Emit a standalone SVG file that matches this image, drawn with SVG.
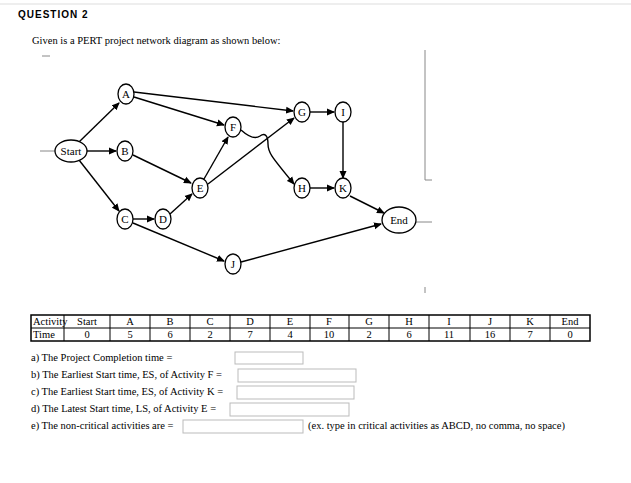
<svg xmlns="http://www.w3.org/2000/svg" width="631" height="483" viewBox="0 0 631 483">
<style>
.n{fill:#fff;stroke:#000;stroke-width:1.3}
.t{font-family:"Liberation Serif",serif;font-size:11px;text-anchor:middle}
.c{stroke:#000;stroke-width:1.4;fill:none;marker-end:url(#ar)}
.g{stroke:#888;stroke-width:1;fill:none}
.tb{font-family:"Liberation Serif",serif;font-size:10.5px;text-anchor:middle}
.q{font-family:"Liberation Serif",serif;font-size:10.5px}
.box{fill:#fff;stroke:#bbb;stroke-width:1}
</style>
<defs><marker id="ar" markerWidth="8" markerHeight="8" refX="7" refY="4" orient="auto" markerUnits="userSpaceOnUse"><path d="M0,0.5 L8,4 L0,7.5 z"/></marker></defs>
<rect width="631" height="483" fill="#fff"/>
<line x1="0" y1="4" x2="631" y2="4" stroke="#ddd"/>
<text x="18" y="18" font-family="Liberation Sans,sans-serif" font-size="10" font-weight="bold" letter-spacing="1">QUESTION 2</text>
<text x="32" y="44" class="q" font-size="11">Given is a PERT project network diagram as shown below:</text>
<line x1="42" y1="56" x2="50" y2="56" class="g"/>
<path d="M425,50 V180 H432" class="g"/>
<line x1="40" y1="151" x2="55" y2="151" class="g"/>
<line x1="416" y1="222" x2="432" y2="222" class="g"/>
<line x1="425" y1="287" x2="425" y2="293" class="g"/>
<g id="connectors">
<path class="c" d="M79,142 L119,103"/>
<path class="c" d="M87,151 L116,151"/>
<path class="c" d="M79,160 L119,211"/>
<path class="c" d="M134,92 L293,111"/>
<path class="c" d="M134,97 L224,125"/>
<path class="c" d="M133,155 L191,183"/>
<path class="c" d="M133,219 L154,219"/>
<path class="c" d="M170,214 L192,194"/>
<path class="c" d="M204,179 L228,137"/>
<path class="c" d="M208,184 L294,118"/>
<path class="c" d="M133,223 L224,261"/>
<path class="c" d="M241,262 L381,224"/>
<path class="c" d="M241,130 C250,138 256,139 260,136 C265,132 268,136 268,144 C268,152 270,155 294,184"/>
<path class="c" d="M310,112 L334,112"/>
<path class="c" d="M343,122 L343,178"/>
<path class="c" d="M310,188 L334,188"/>
<path class="c" d="M350,196 L384,213"/>
</g>
<g id="n-start"><ellipse class="n" cx="71" cy="151" rx="16" ry="11"/><text class="t" x="71" y="155" font-size="10">Start</text></g>
<g id="n-a"><ellipse class="n" cx="126" cy="94" rx="8" ry="10"/><text class="t" x="126" y="98">A</text></g>
<g id="n-b"><ellipse class="n" cx="125" cy="151" rx="8" ry="10"/><text class="t" x="125" y="155">B</text></g>
<g id="n-c"><ellipse class="n" cx="125" cy="219" rx="8" ry="10"/><text class="t" x="125" y="223">C</text></g>
<g id="n-d"><ellipse class="n" cx="163" cy="219" rx="8" ry="10"/><text class="t" x="163" y="223">D</text></g>
<g id="n-e"><ellipse class="n" cx="200" cy="188" rx="8" ry="10"/><text class="t" x="200" y="192">E</text></g>
<g id="n-f"><ellipse class="n" cx="233" cy="127" rx="8" ry="10"/><text class="t" x="233" y="131">F</text></g>
<g id="n-g"><ellipse class="n" cx="302" cy="112" rx="8" ry="10"/><text class="t" x="302" y="116">G</text></g>
<g id="n-i"><ellipse class="n" cx="343" cy="112" rx="8" ry="10"/><text class="t" x="343" y="116">I</text></g>
<g id="n-h"><ellipse class="n" cx="302" cy="188" rx="8" ry="10"/><text class="t" x="302" y="192">H</text></g>
<g id="n-k"><ellipse class="n" cx="343" cy="188" rx="8" ry="10"/><text class="t" x="343" y="192">K</text></g>
<g id="n-j"><ellipse class="n" cx="233" cy="264" rx="8" ry="10"/><text class="t" x="233" y="268">J</text></g>
<g id="n-end"><ellipse class="n" cx="399" cy="220" rx="17" ry="13"/><text class="t" x="399" y="224" font-size="10">End</text></g>
<g id="table" stroke="#000" stroke-width="1">
<rect x="31" y="315" width="559" height="26" fill="none" stroke-width="1.5"/>
<line x1="31" y1="328" x2="590" y2="328"/>
<path d="M64,315V341M110,315V341M150,315V341M190,315V341M230,315V341M270,315V341M310,315V341M349,315V341M389,315V341M429,315V341M470,315V341M510,315V341M550,315V341"/>
</g>
<g id="table-text">
<text class="q" x="33" y="325">Activity</text><text class="q" x="33" y="338">Time</text>
<text class="tb" x="87" y="325">Start</text><text class="tb" x="87" y="338">0</text>
<text class="tb" x="130" y="325">A</text><text class="tb" x="130" y="338">5</text>
<text class="tb" x="170" y="325">B</text><text class="tb" x="170" y="338">6</text>
<text class="tb" x="210" y="325">C</text><text class="tb" x="210" y="338">2</text>
<text class="tb" x="250" y="325">D</text><text class="tb" x="250" y="338">7</text>
<text class="tb" x="290" y="325">E</text><text class="tb" x="290" y="338">4</text>
<text class="tb" x="329" y="325">F</text><text class="tb" x="329" y="338">10</text>
<text class="tb" x="369" y="325">G</text><text class="tb" x="369" y="338">2</text>
<text class="tb" x="409" y="325">H</text><text class="tb" x="409" y="338">6</text>
<text class="tb" x="449" y="325">I</text><text class="tb" x="449" y="338">11</text>
<text class="tb" x="490" y="325">J</text><text class="tb" x="490" y="338">16</text>
<text class="tb" x="530" y="325">K</text><text class="tb" x="530" y="338">7</text>
<text class="tb" x="570" y="325">End</text><text class="tb" x="570" y="338">0</text>
</g>
<g id="questions">
<text class="q" x="31" y="361">a) The Project Completion time =</text><rect class="box" x="235" y="352" width="68" height="12"/>
<text class="q" x="31" y="378">b) The Earliest Start time, ES, of Activity F =</text><rect class="box" x="238" y="369" width="118" height="13"/>
<text class="q" x="31" y="395">c) The Earliest Start time, ES, of Activity K =</text><rect class="box" x="237" y="386" width="117" height="13"/>
<text class="q" x="31" y="412">d) The Latest Start time, LS, of Activity E =</text><rect class="box" x="230" y="403" width="119" height="13"/>
<text class="q" x="31" y="429">e) The non-critical activities are =</text><rect class="box" x="183" y="420" width="120" height="13"/>
<text class="q" x="308" y="429">(ex. type in critical activities as ABCD, no comma, no space)</text>
</g>
</svg>
